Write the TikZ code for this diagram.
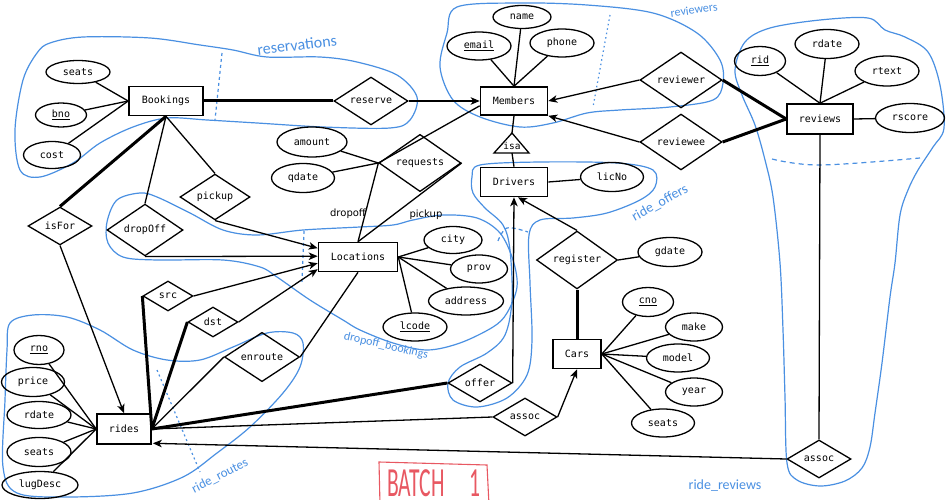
\documentclass[tikz,border=0pt]{standalone}
\usepackage{fontspec}
\newfontfamily\erfont{DejaVu Sans Mono}
\newfontfamily\handfont{Carlito}
\newfontfamily\labfont{DejaVu Sans}
\usetikzlibrary{shapes.geometric,arrows.meta,calc}
\definecolor{hand}{RGB}{74,144,226}
\definecolor{batchred}{RGB}{232,88,98}
\newcommand\keyattr[1]{\setbox0=\hbox{#1}\leavevmode\rlap{\raisebox{-2.8pt}{\rule{\wd0}{1.3pt}}}\box0}
\begin{document}
\begin{tikzpicture}[x=1pt,y=-1pt,
  every node/.style={font=\erfont\fontsize{10}{12}\selectfont},
  wh/.style 2 args={minimum width=#1pt, minimum height=#2pt},
  ent/.style={draw, rectangle, line width=1.6pt, inner sep=0pt},
  att/.style={draw, ellipse, line width=1.3pt, inner sep=0pt},
  rel/.style={draw, diamond, line width=1.3pt, inner sep=0pt},
  ln/.style={line width=1.3pt},
  thk/.style={line width=3pt},
  arr/.style={line width=1.3pt, -{Stealth[length=9pt,width=7.5pt,inset=2.5pt]}},
  hl/.style={draw=hand, line width=1.2pt},
  hlab/.style={text=hand, font=\handfont\fontsize{#1}{#1}\selectfont, inner sep=0pt},
  plainlab/.style={font=\labfont\fontsize{10}{12}\selectfont, inner sep=0pt}]
\fill[white] (0,0) rectangle (948,500);
\useasboundingbox (0,0) rectangle (948,500);

% ---------- blue annotation curves ----------
\draw[hl] plot[smooth cycle, tension=0.55] coordinates {(50,43) (83,37) (150,38) (200,45) (233,50) (267,57) (320,57) (357,62) (397,75) (417,97) (410,120) (390,128) (323,127) (257,123) (207,120) (167,118) (133,127) (100,143) (73,163) (40,177) (20,170) (15,130) (23,80) (37,53)};
\draw[hl, dash pattern=on 3pt off 3pt] (222,53) -- (215,120);

\draw[hl] plot[smooth cycle, tension=0.55] coordinates {(457,7) (520,3) (587,5) (653,13) (697,33) (720,60) (723,83) (713,100) (670,107) (620,110) (587,113) (553,123) (520,127) (480,117) (453,100) (440,67) (447,33)};
\draw[hl, dash pattern=on 1.5pt off 3pt] (610,15) -- (593,107);

\draw[hl] plot[smooth cycle, tension=0.55] coordinates {(735,70) (745,42) (770,28) (820,20) (868,18) (885,30) (905,37) (928,52) (940,85) (944,128) (933,147) (918,170) (908,190) (900,215) (895,263) (890,297) (882,363) (875,413) (870,447) (862,468) (845,481) (820,486) (797,480) (787,463) (785,397) (783,330) (780,263) (773,197) (765,160) (755,125) (742,95)};
\draw[hl, dash pattern=on 5pt off 4pt] plot[smooth, tension=0.6] coordinates {(772,159) (820,165) (920,158)};

\draw[hl] plot[smooth cycle, tension=0.55] coordinates {(472,177) (480,165) (540,162) (617,163) (653,170) (655,187) (640,200) (607,213) (573,218) (540,220) (529,235) (530,283) (532,340) (527,375) (507,398) (477,407) (453,400) (448,383) (460,367) (487,353) (505,335) (512,300) (510,250) (503,225) (485,208) (473,193)};
\draw[hl, dash pattern=on 4pt off 3pt] plot[smooth, tension=0.6] coordinates {(498,241) (507,228) (528,232)};

\draw[hl] plot[smooth cycle, tension=0.55] coordinates {(117,200) (140,193) (157,197) (190,213) (223,230) (257,235) (303,230) (360,227) (393,225) (413,220) (443,215) (477,218) (500,233) (513,260) (517,287) (507,313) (493,327) (460,343) (427,350) (393,343) (360,330) (343,320) (310,300) (277,277) (260,267) (223,260) (157,260) (123,257) (108,243) (107,222)};
\draw[hl, dash pattern=on 3pt off 3pt] (304,231) -- (302,282);

\draw[hl] plot[smooth cycle, tension=0.55] coordinates {(10,323) (33,315) (67,317) (100,330) (133,350) (167,360) (200,360) (233,347) (267,333) (293,333) (303,343) (300,367) (283,393) (250,427) (217,453) (183,477) (133,493) (67,497) (17,493) (3,467) (5,400) (7,350)};
\draw[hl, dash pattern=on 2pt off 3pt] (157,370) -- (200,472);

% blue labels
\node[hlab=16, rotate=7] (lblres) at (297,45) {reservations};
\node[hlab=12, rotate=8] (lblrev) at (694,10) {reviewers};
\node[hlab=14, rotate=29] (lbloff) at (660,203) {ride\_offers};
\node[hlab=12, rotate=-13] (lbldrop) at (386,346) {dropoff\_bookings};
\node[hlab=13, rotate=27] (lblroute) at (220,476) {ride\_routes};
\node[hlab=14] (lblrr) at (725,486) {ride\_reviews};

% BATCH 1
\draw[batchred, line width=1.1pt] (380,505) -- (379,462) -- (487,465) -- (489,505);
\node[text=batchred, font=\handfont\fontsize{30}{30}\selectfont, xscale=0.72, yscale=1.38, inner sep=0pt, anchor=base west] (batch) at (387,496) {BATCH\hspace{34pt}1};

% ---------- entities ----------
\node[ent, wh={74}{29}] (Bookings) at (166,101) {Bookings};
\node[ent, wh={67}{28}] (Members) at (514,101) {Members};
\node[ent, wh={67}{29}] (Drivers) at (514,182) {Drivers};
\node[ent, wh={66}{30}] (reviews) at (820,119) {reviews};
\node[ent, wh={79}{29}] (Locations) at (358,257) {Locations};
\node[ent, wh={54}{30}] (rides) at (124,429) {rides};
\node[ent, wh={48}{29}] (Cars) at (577,354) {Cars};

% ---------- attributes ----------
\node[att, wh={64}{23}] (seatsB) at (78,72) {seats};
\node[att, wh={51}{24}] (bno) at (61,115) {\keyattr{bno}};
\node[att, wh={57}{27}] (cost) at (52,155) {cost};
\node[att, wh={58}{23}] (name) at (522,17) {name};
\node[att, wh={64}{28}] (email) at (479,46) {\keyattr{email}};
\node[att, wh={64}{28}] (phone) at (562,43) {phone};
\node[att, wh={51}{29}] (rid) at (760,61) {\keyattr{rid}};
\node[att, wh={64}{29}] (rdateR) at (827,44) {rdate};
\node[att, wh={64}{30}] (rtext) at (887,71) {rtext};
\node[att, wh={69}{29}] (rscore) at (910,118) {rscore};
\node[att, wh={63}{29}] (licNo) at (612,177) {licNo};
\node[att, wh={70}{30}] (amount) at (312,142) {amount};
\node[att, wh={63}{29}] (qdate) at (303,178) {qdate};
\node[att, wh={58}{27}] (city) at (453,240) {city};
\node[att, wh={57}{28}] (prov) at (479,269) {prov};
\node[att, wh={75}{28}] (address) at (466,301) {address};
\node[att, wh={64}{28}] (lcode) at (415,327) {\keyattr{lcode}};
\node[att, wh={64}{29}] (gdate) at (670,252) {gdate};
\node[att, wh={51}{29}] (cno) at (648,302) {\keyattr{cno}};
\node[att, wh={57}{28}] (make) at (694,327) {make};
\node[att, wh={63}{28}] (model) at (678,358) {model};
\node[att, wh={57}{28}] (year) at (694,392) {year};
\node[att, wh={63}{28}] (seatsC) at (663,423) {seats};
\node[att, wh={50}{29}] (rno) at (39,350) {\keyattr{rno}};
\node[att, wh={63}{29}] (price) at (33,382) {price};
\node[att, wh={64}{27}] (rdateD) at (39,415) {rdate};
\node[att, wh={64}{29}] (seatsD) at (39,452) {seats};
\node[att, wh={76}{27}] (lugDesc) at (40,485) {lugDesc};

% ---------- relationships ----------
\node[rel, wh={74}{46}] (reserve) at (371,101) {reserve};
\node[rel, wh={82}{49}] (reviewer) at (681,80) {reviewer};
\node[rel, wh={82}{49}] (reviewee) at (681,142) {reviewee};
\node[rel, wh={82}{49}] (requests) at (420,163) {requests};
\node[rel, wh={64}{37}] (isFor) at (60,226) {isFor};
\node[rel, wh={76}{46}] (dropOff) at (145,230) {dropOff};
\node[rel, wh={70}{41}] (pickup) at (215,197) {pickup};
\node[rel, wh={50}{30}] (src) at (168,296) {src};
\node[rel, wh={50}{30}] (dst) at (213,322) {dst};
\node[rel, wh={75}{47}] (enroute) at (262,357) {enroute};
\node[rel, wh={64}{37}] (offer) at (480,383) {offer};
\node[rel, wh={81}{47}] (register) at (577,260) {register};
\node[rel, wh={64}{38}] (assocC) at (525,417) {assoc};
\node[rel, wh={64}{38}] (assocR) at (819,459) {assoc};

% isa triangle
\coordinate (isaTop) at (512,133);
\coordinate (isaBot) at (512,153);
\draw[ln] (494,153) -- (isaTop) -- (529,153) -- cycle;
\node[font=\erfont\fontsize{9.5}{11}\selectfont, inner sep=0pt] (isa) at (512,146) {isa};

% edge labels
\node[plainlab] (lbldropoff) at (348,214) {dropoff};
\node[plainlab] (lblpickup) at (426,215) {pickup};

% ---------- attribute connectors ----------
\foreach \a in {seatsB,bno,cost} \draw[ln] (\a) -- (Bookings.west);
\foreach \a in {name,email,phone} \draw[ln] (\a) -- (Members.north);
\foreach \a in {rid,rdateR,rtext} \draw[ln] (\a) -- (reviews.north);
\draw[ln] (rscore) -- (reviews.east);
\draw[ln] (licNo) -- (Drivers.east);
\foreach \a in {amount,qdate} \draw[ln] (\a) -- (requests.west);
\foreach \a in {city,prov,address,lcode} \draw[ln] (\a) -- (Locations.east);
\draw[ln] (gdate) -- (register.east);
\foreach \a in {cno,make,model,year,seatsC} \draw[ln] (\a) -- (Cars.east);
\foreach \a in {rno,price,rdateD,seatsD,lugDesc} \draw[ln] (\a) -- (rides.west);

% ---------- relationship connectors ----------
\draw[thk] (Bookings.east) -- (reserve.west);
\draw[arr] (reserve.east) -- (Members.west);
\draw[arr] (reviewer.west) -- (Members.east);
\draw[arr] (reviewee.west) -- (Members.south east);
\draw[thk] (reviewer.east) -- (reviews.west);
\draw[thk] (reviewee.east) -- (reviews.west);
\draw[ln] (Members.south) -- (isaTop);
\draw[ln] (isaBot) -- (Drivers.north);
\draw[ln] (requests.west) -- (Members.188);
\draw[ln] (requests.west) -- (Locations.north);
\draw[ln] (requests.east) -- (Locations.north);

\draw[thk] (Bookings.south) -- (isFor.north);
\draw[arr] (isFor.south) -- (rides.north);
\draw[ln] (Bookings.south) -- (dropOff.north);
\draw[ln] (Bookings.south) -- (pickup.north);

\coordinate (L1) at ($(Locations.north west)+(0,6.5)$);
\coordinate (L2) at ($(Locations.north west)+(0,14.5)$);
\coordinate (L3) at ($(Locations.north west)+(0,21.5)$);
\coordinate (L4) at ($(Locations.north west)+(0,27.5)$);
\draw[arr] (pickup.south) -- (L1);
\draw[arr] (dropOff.south) -- (L2);
\draw[arr] (src.east) -- (L3);
\draw[arr] (dst.east) -- (L4);

\draw[thk] (src.west) -- (rides.east);
\draw[thk] (dst.west) -- (rides.east);
\draw[ln] (enroute.west) -- (rides.east);
\draw[ln] (enroute.east) -- (Locations.south);
\draw[thk] (offer.west) -- (rides.east);
\draw[arr] (offer.east) -- (Drivers.south);
\coordinate (D2) at ($(Drivers.south)+(4,0)$);
\draw[arr] (register.north) -- (D2);
\draw[thk] (register.south) -- (Cars.north);
\draw[arr] (assocC.east) -- (Cars.south);
\draw[ln] (assocC.west) -- (rides.east);
\draw[ln] (reviews.south) -- (assocR.north);
\coordinate (R2) at ($(rides.south east)+(1,-1.5)$);
\draw[arr] (assocR.west) -- (R2);
\end{tikzpicture}
\end{document}
